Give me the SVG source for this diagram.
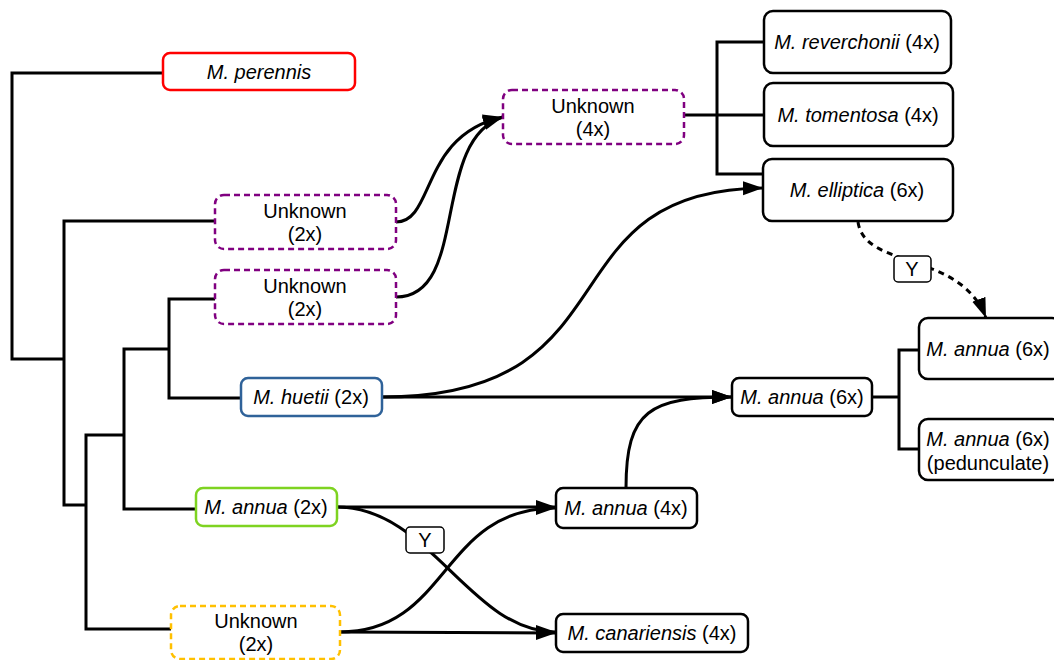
<svg xmlns="http://www.w3.org/2000/svg" width="1054" height="660" viewBox="0 0 1054 660">
  <defs>
    <marker id="arrow" markerUnits="userSpaceOnUse" markerWidth="22" markerHeight="16" refX="20" refY="7" orient="auto">
      <path d="M0,0 L20,7 L0,14 z" fill="#000"/>
    </marker>
    <style>
      .box { fill: #fff; stroke: #000; stroke-width: 2.5; }
      .red { stroke: #ff0000; }
      .blue { stroke: #2f6299; }
      .green { stroke: #7ed321; }
      .purple { stroke: #800080; stroke-dasharray: 6 4; }
      .orange { stroke: #ffc000; stroke-dasharray: 6 4; }
      .tag { fill: #fff; stroke: #000; stroke-width: 1.5; }
      text { font-family: "Liberation Sans", Arial, sans-serif; font-size: 20px; fill: #000; text-anchor: middle; }
      .it { font-style: italic; }
      .tree { fill: none; stroke: #000; stroke-width: 3; }
      .link { fill: none; stroke: #000; stroke-width: 3; }
      .arr { marker-end: url(#arrow); }
      .dash { stroke-dasharray: 6 5; }
    </style>
  </defs>

  <!-- tree branches and hybridisation links -->
  <g id="connectors">
    <path class="tree" d="M163,73 H12 V359 H64"/>
    <path class="tree" d="M215,221 H64 V505 H86"/>
    <path class="tree" d="M171,629 H86 V435 H124"/>
    <path class="tree" d="M196,509 H124 V349 H169"/>
    <path class="tree" d="M215,299 H169 V398 H241"/>
    <path class="tree" d="M764,42 H717 V174 H763"/>
    <path class="tree" d="M683,115 H764"/>
    <path class="tree" d="M872,397 H899"/>
    <path class="tree" d="M919,350 H899 V449 H919"/>

    <path class="link arr" d="M396,222 C435,222 420,135 503,117"/>
    <path class="link arr" d="M396,297 C470,297 430,140 503,117"/>
    <path class="link arr" d="M382,397 C640,397 540,190 763,188"/>
    <path class="link arr" d="M382,397 L732,397"/>
    <path class="link arr" d="M337,507 L556,507"/>
    <path class="link arr" d="M337,507 C430,507 470,632 556,632"/>
    <path class="link arr" d="M340,632 C450,632 440,508 556,508"/>
    <path class="link arr" d="M340,632 L556,633"/>
    <path class="link arr" d="M626,488 C626,410 650,397 732,397"/>
    <path class="link arr dash" d="M858,222 C865,270 960,250 986,318"/>
  </g>

  <g id="perennis">
    <rect class="box red" x="163" y="53" width="192" height="37" rx="7"/>
    <text class="it" x="259" y="79">M. perennis</text>
  </g>
  <g id="unknown-2x-a">
    <rect class="box purple" x="215" y="195" width="181" height="54" rx="9"/>
    <text x="305" y="218">Unknown</text>
    <text x="305" y="241">(2x)</text>
  </g>
  <g id="unknown-2x-b">
    <rect class="box purple" x="215" y="270" width="181" height="54" rx="9"/>
    <text x="305" y="293">Unknown</text>
    <text x="305" y="316">(2x)</text>
  </g>
  <g id="unknown-4x">
    <rect class="box purple" x="503" y="90" width="181" height="54" rx="9"/>
    <text x="593" y="113">Unknown</text>
    <text x="593" y="136">(4x)</text>
  </g>
  <g id="reverchonii">
    <rect class="box" x="764" y="11" width="187" height="62" rx="9"/>
    <text x="857" y="49"><tspan class="it">M. reverchonii</tspan> (4x)</text>
  </g>
  <g id="tomentosa">
    <rect class="box" x="764" y="83" width="189" height="63" rx="9"/>
    <text x="858" y="122"><tspan class="it">M. tomentosa</tspan> (4x)</text>
  </g>
  <g id="elliptica">
    <rect class="box" x="763" y="159" width="190" height="62" rx="9"/>
    <text x="857" y="197"><tspan class="it">M. elliptica</tspan> (6x)</text>
  </g>
  <g id="huetii">
    <rect class="box blue" x="241" y="378" width="141" height="38" rx="7"/>
    <text x="311" y="404"><tspan class="it">M. huetii</tspan> (2x)</text>
  </g>
  <g id="annua-2x">
    <rect class="box green" x="196" y="488" width="141" height="38" rx="7"/>
    <text x="266" y="514"><tspan class="it">M. annua</tspan> (2x)</text>
  </g>
  <g id="unknown-2x-c">
    <rect class="box orange" x="171" y="606" width="169" height="53" rx="9"/>
    <text x="256" y="628">Unknown</text>
    <text x="256" y="651">(2x)</text>
  </g>
  <g id="annua-4x">
    <rect class="box" x="556" y="488" width="141" height="40" rx="7"/>
    <text x="626" y="515"><tspan class="it">M. annua</tspan> (4x)</text>
  </g>
  <g id="canariensis">
    <rect class="box" x="556" y="614" width="192" height="38" rx="7"/>
    <text x="652" y="640"><tspan class="it">M. canariensis</tspan> (4x)</text>
  </g>
  <g id="annua-6x">
    <rect class="box" x="732" y="378" width="140" height="38" rx="7"/>
    <text x="802" y="404"><tspan class="it">M. annua</tspan> (6x)</text>
  </g>
  <g id="annua-6x-a">
    <rect class="box" x="919" y="318" width="142" height="61" rx="9"/>
    <text x="988" y="356"><tspan class="it">M. annua</tspan> (6x)</text>
  </g>
  <g id="annua-6x-pedunculate">
    <rect class="box" x="919" y="419" width="142" height="61" rx="9"/>
    <text x="988" y="446"><tspan class="it">M. annua</tspan> (6x)</text>
    <text x="988" y="470">(pedunculate)</text>
  </g>

  <g id="y-tag-top">
    <rect class="tag" x="894" y="256" width="37" height="26" rx="4"/>
    <text x="912" y="276">Y</text>
  </g>
  <g id="y-tag-bottom">
    <rect class="tag" x="406" y="527" width="38" height="26" rx="4"/>
    <text x="425" y="547">Y</text>
  </g>
</svg>
